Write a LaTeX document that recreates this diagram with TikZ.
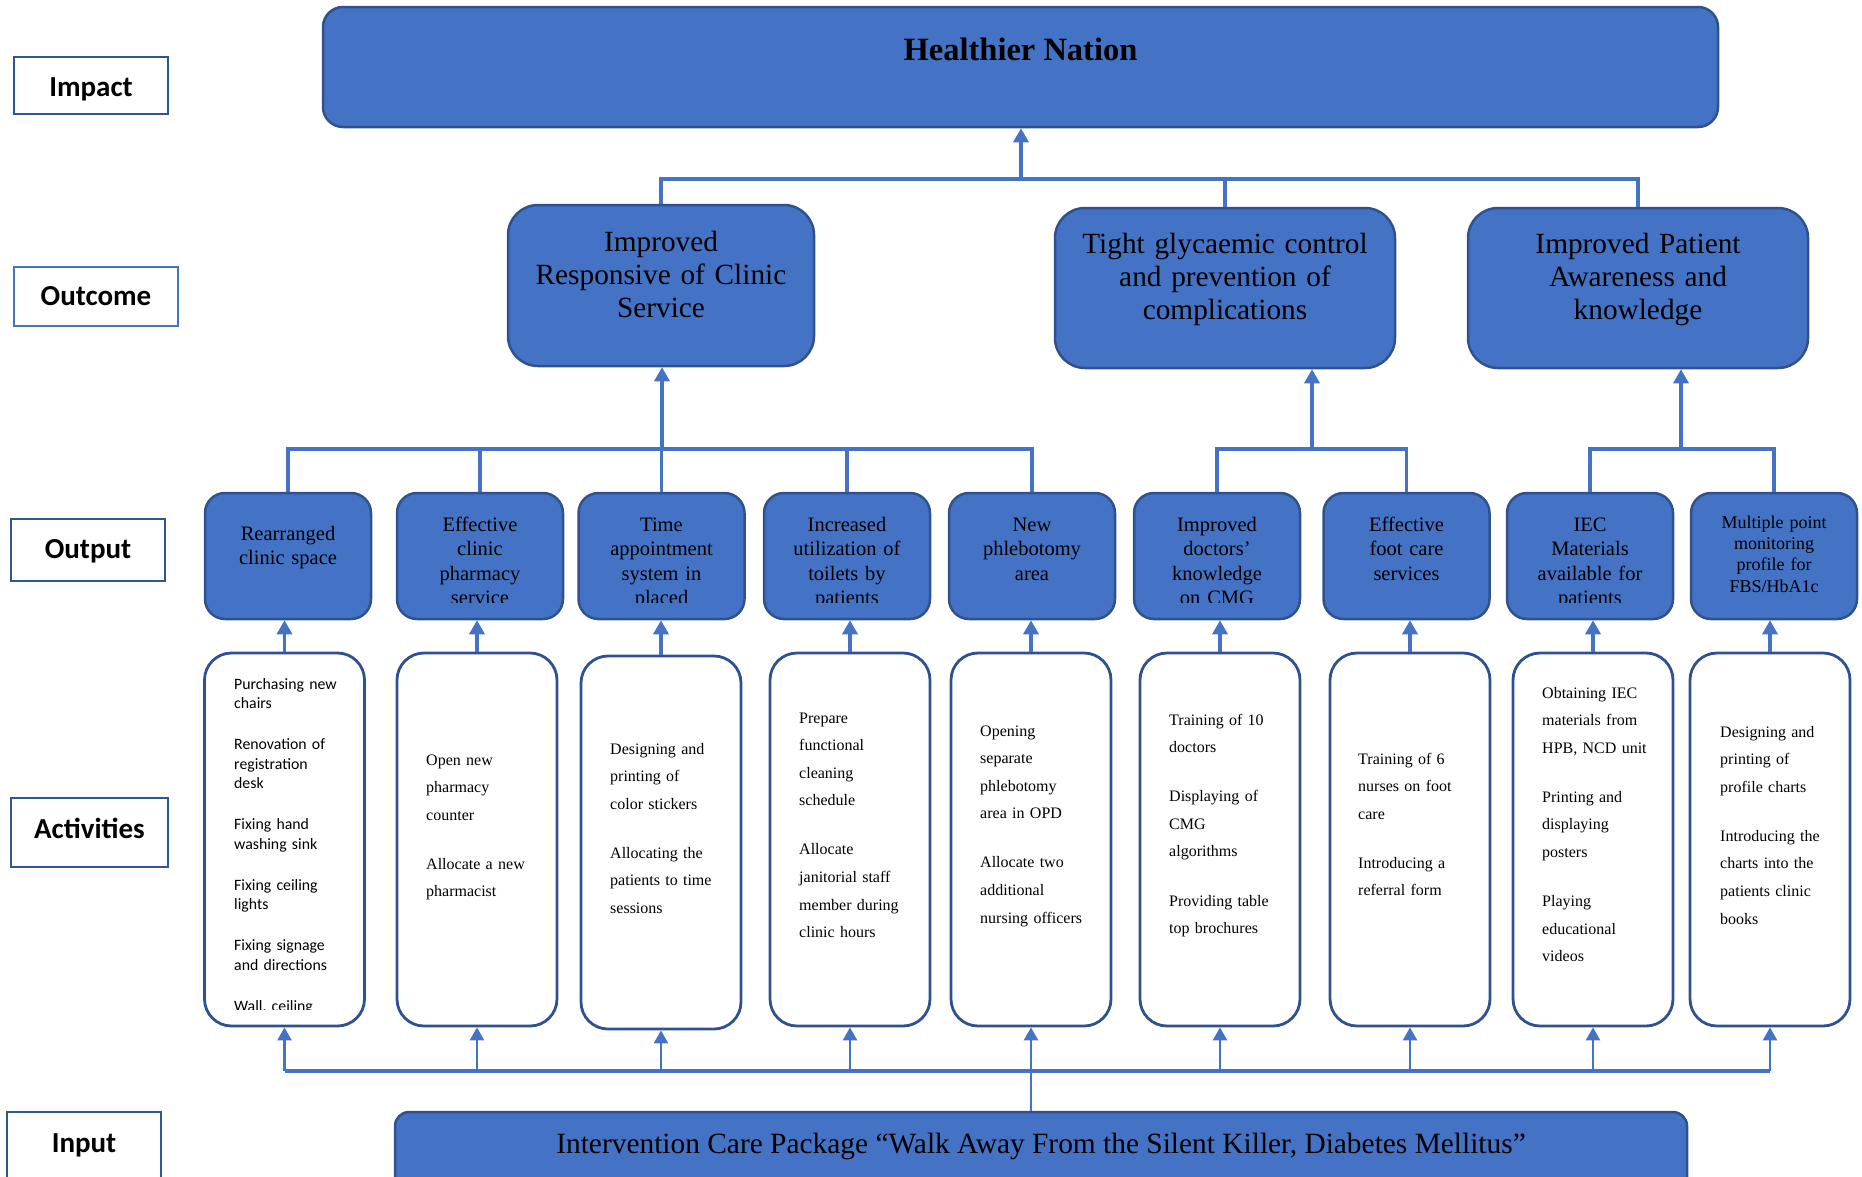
\documentclass[tikz,border=0pt]{standalone}
\usepackage{fontspec}
\setmainfont{Liberation Serif}
\newfontfamily\calibrifont{Carlito}
\usetikzlibrary{arrows.meta}
\definecolor{boxblue}{HTML}{4472C4}
\definecolor{boxedge}{HTML}{2F528F}
\definecolor{linkblue}{HTML}{4472C4}
\definecolor{labeledge}{HTML}{2F5597}
\definecolor{labeledgelight}{HTML}{4472C4}

\begin{document}
\begin{tikzpicture}[x=1pt,y=-1pt,
  levelbox/.style={draw=labeledge, line width=2.2pt, fill=white, rectangle, inner sep=0pt},
  leveltext/.style={inner sep=0pt, anchor=base, font=\calibrifont\bfseries\fontsize{29}{34}\selectfont},
  bluebox/.style={draw=boxedge, fill=boxblue, line width=2.5pt, rectangle, inner sep=0pt},
  hnbox/.style={bluebox, rounded corners=20pt, minimum width=1395pt, minimum height=120pt},
  outcomebox/.style={bluebox, rounded corners=30pt, minimum height=160pt},
  outputbox/.style={bluebox, rounded corners=20pt, minimum width=166pt, minimum height=126pt},
  actbox/.style={draw=boxedge, fill=white, line width=2.8pt, rounded corners=27pt, rectangle,
    inner sep=0pt, minimum width=160pt, minimum height=373pt},
  inputbox/.style={bluebox, rounded corners=14pt, minimum width=1292pt, minimum height=80pt},
  outcometext/.style={inner sep=0pt, anchor=base, align=center, text width=320pt,
    font=\fontsize{29.3}{33}\selectfont},
  outputtext/.style={inner sep=0pt, anchor=base, align=center, text width=160pt,
    font=\fontsize{20.5}{24.5}\selectfont},
  acttext/.style={inner sep=0pt, anchor=base west, align=left, text width=128pt,
    font=\fontsize{16}{27.6}\selectfont},
  link/.style={draw=linkblue, line width=3.3pt},
  thinlink/.style={draw=linkblue, line width=2.6pt},
  arrow/.style={link, -{Triangle[width=15pt,length=14pt]}},
  thinarrow/.style={thinlink, -{Triangle[width=14pt,length=13pt]}},
]
\useasboundingbox (0,0) rectangle (1862,1176);
\clip (0,0) rectangle (1862,1176);

% ---- level labels on the left
\node[levelbox, minimum width=154pt, minimum height=57pt] (lab1) at (91,85.5) {};
\node[levelbox, draw=labeledgelight, minimum width=164pt, minimum height=59pt] (lab2) at (96,296.5) {};
\node[levelbox, minimum width=154pt, minimum height=62pt] (lab3) at (88,550) {};
\node[levelbox, minimum width=157pt, minimum height=69pt] (lab4) at (89.5,832.5) {};
\node[levelbox, minimum width=154pt, minimum height=80pt] (lab5) at (84,1152) {};
\node[leveltext] (lab1t) at (91,96) {Impact};
\node[leveltext] (lab2t) at (96,305) {Outcome};
\node[leveltext] (lab3t) at (88,558.5) {Output};
\node[leveltext] (lab4t) at (89.5,838.5) {Activities};
\node[leveltext] (lab5t) at (84,1152) {Input};

% ---- impact
\node[hnbox] (hn) at (1020.5,67) {};
\node[inner sep=0pt, anchor=base, font=\bfseries\fontsize{32.5}{40}\selectfont] (hnt) at (1020.5,60) {Healthier Nation};

% ---- outcomes
\node[outcomebox, minimum width=306pt, minimum height=161pt] (oc1) at (661,285.5) {};
\node[outcomebox, minimum width=340pt] (oc2) at (1225,288) {};
\node[outcomebox, minimum width=340pt] (oc3) at (1638,288) {};
\node[outcometext] (oc1t) at (661,251.5) {Improved\\Responsive of Clinic\\Service};
\node[outcometext] (oc2t) at (1225,253.5) {Tight glycaemic control\\and prevention of\\complications};
\node[outcometext] (oc3t) at (1638,253.5) {Improved Patient\\Awareness and\\knowledge};

% ---- outputs (text overflowing a box is cut off, as in a fixed text frame)
\foreach \i/\x in {1/288,2/480,3/661.5,4/847,5/1032,6/1217,7/1406.5,8/1590,9/1774}
  \node[outputbox] (o\i) at (\x,556) {};
\newcommand{\outputlabel}[4]{%
  \begin{scope}
    \clip (#1.north west) rectangle ([yshift=18pt]#1.south east);
    \node[outputtext,#2] (#1t) at (#1.center |- 0,#3) {#4};
  \end{scope}}
\outputlabel{o1}{}{540}{Rearranged\\clinic space}
\outputlabel{o2}{}{531}{Effective\\clinic\\pharmacy\\service}
\outputlabel{o3}{}{531}{Time\\appointment\\system in\\placed}
\outputlabel{o4}{}{531}{Increased\\utilization of\\toilets by\\patients}
\outputlabel{o5}{}{531}{New\\phlebotomy\\area}
\outputlabel{o6}{}{531}{Improved\\doctors’\\knowledge\\on CMG}
\outputlabel{o7}{}{531}{Effective\\foot care\\services}
\outputlabel{o8}{}{531}{IEC\\Materials\\available for\\patients}
\outputlabel{o9}{font=\fontsize{18}{21.4}\selectfont}{528}{Multiple point\\monitoring\\profile for\\FBS/HbA1c}

% ---- activities
\foreach \i/\x/\y in {1/284.5/839.5,2/477/839.5,3/661/842.5,4/850/839.5,5/1031/839.5,
                      6/1220/839.5,7/1410/839.5,8/1593/839.5,9/1770/839.5}
  \node[actbox] (a\i) at (\x,\y) {};

\begin{scope}
  \clip (a1.north west) rectangle ([yshift=18pt]a1.south east);
  \node[acttext, font=\calibrifont\fontsize{15.8}{19.5}\selectfont] (a1t) at (234,689)
    {Purchasing new\\chairs\\[21.5pt]Renovation of\\registration\\desk\\[21.5pt]Fixing hand\\washing sink\\[21.5pt]Fixing ceiling\\lights\\[21.5pt]Fixing signage\\and directions\\[21.5pt]Wall, ceiling};
\end{scope}
\node[acttext] (a2t) at (426,765) {Open new\\pharmacy\\counter\\[21.5pt]Allocate a new\\pharmacist};
\node[acttext] (a3t) at (610,754) {Designing and\\printing of\\color stickers\\[21.5pt]Allocating the\\patients to time\\sessions};
\node[acttext] (a4t) at (799,723) {Prepare\\functional\\cleaning\\schedule\\[21.5pt]Allocate\\janitorial staff\\member during\\clinic hours};
\node[acttext] (a5t) at (980,736) {Opening\\separate\\phlebotomy\\area in OPD\\[21.5pt]Allocate two\\additional\\nursing officers};
\node[acttext] (a6t) at (1169,725) {Training of 10\\doctors\\[21.5pt]Displaying of\\CMG\\algorithms\\[21.5pt]Providing table\\top brochures};
\node[acttext] (a7t) at (1358,764) {Training of 6\\nurses on foot\\care\\[21.5pt]Introducing a\\referral form};
\node[acttext] (a8t) at (1542,698) {Obtaining IEC\\materials from\\HPB, NCD unit\\[21.5pt]Printing and\\displaying\\posters\\[21.5pt]Playing\\educational\\videos};
\node[acttext] (a9t) at (1720,737) {Designing and\\printing of\\profile charts\\[21.5pt]Introducing the\\charts into the\\patients clinic\\books};

% ---- input
\node[inputbox] (inp) at (1041,1152) {};
\node[inner sep=0pt, anchor=base, font=\fontsize{29.4}{34}\selectfont] (inpt) at (1041,1153)
  {Intervention Care Package “Walk Away From the Silent Killer, Diabetes Mellitus”};

% ---- connectors: outcomes to impact
\coordinate (topbus) at (1021,179);
\draw[link] (oc1.north) -- (oc1.north |- topbus) -- (oc3.north |- topbus) -- (oc3.north);
\draw[link] (oc2.north) -- (oc2.north |- topbus);
\draw[arrow] (topbus) -- (topbus |- hn.south);

% ---- connectors: outputs to outcomes
\coordinate (bus1) at (662,449);
\draw[link] (o1.north) -- (o1.north |- bus1) -- (o5.north |- bus1) -- (o5.north);
\foreach \i in {2,3,4} \draw[link] (o\i.north) -- (o\i.north |- bus1);
\draw[arrow] (bus1) -- (bus1 |- oc1.south);

\coordinate (bus2) at (1312,449);
\draw[link] (o6.north) -- (o6.north |- bus2) -- (o7.north |- bus2) -- (o7.north);
\draw[arrow] (bus2) -- (bus2 |- oc2.south);

\coordinate (bus3) at (1681,449);
\draw[link] (o8.north) -- (o8.north |- bus3) -- (o9.north |- bus3) -- (o9.north);
\draw[arrow] (bus3) -- (bus3 |- oc3.south);

% ---- connectors: activities to outputs
\foreach \i in {1,...,9} \draw[arrow] (a\i.north) -- (a\i.north |- o\i.south);

% ---- connectors: input to activities
\coordinate (bus4) at (1031,1071);
\draw[link] (a1.south |- bus4) -- (a9.south |- bus4);
\draw[thinlink] (bus4 |- inp.north) -- (bus4);
\foreach \i in {1,...,9} \draw[thinarrow] (a\i.south |- bus4) -- (a\i.south);
\end{tikzpicture}
\end{document}
